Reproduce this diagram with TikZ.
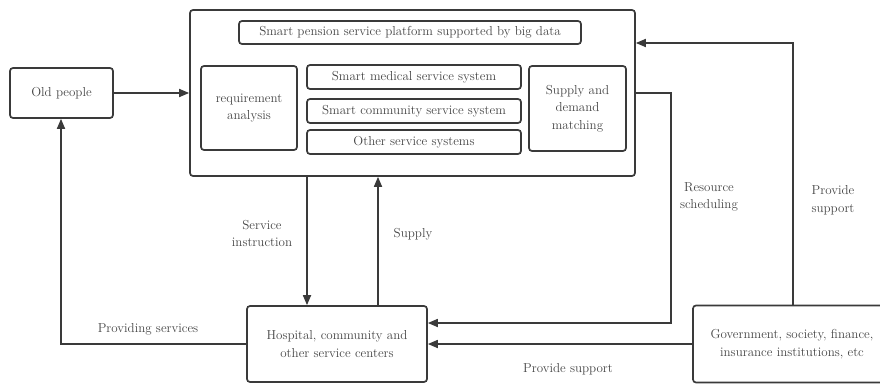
\documentclass[tikz,border=0pt]{standalone}
\usetikzlibrary{arrows.meta}
\definecolor{ln}{HTML}{3A3A3A}
\definecolor{tx}{HTML}{454545}
\tikzset{
  box/.style={draw=ln, line width=1.7pt, rounded corners=3pt, align=center, text=tx, inner sep=0pt, font=\fontsize{13}{17.5}\selectfont},
  lbl/.style={text=tx, align=center, font=\fontsize{13}{17.5}\selectfont, inner sep=0pt},
  arr/.style={draw=ln, line width=1.7pt, -{Triangle[length=10pt,width=8pt]}},
  ln/.style={draw=ln, line width=1.7pt}
}
\begin{document}
\begin{tikzpicture}[x=1pt,y=-1pt]
\useasboundingbox (0,0) rectangle (880,383);
\begin{scope}
\clip (0,0) rectangle (880,383);
\node[box, minimum width=445pt, minimum height=166pt] (main) at (412.5,93) {};
\node[box, minimum width=342pt, minimum height=23pt] (top) at (410,32.5) {Smart pension service platform supported by big data};
\node[box, minimum width=96pt, minimum height=84pt] (req) at (249,108) {requirement\\analysis};
\node[box, minimum width=214pt, minimum height=24pt] (med) at (414,77) {Smart medical service system};
\node[box, minimum width=214pt, minimum height=24pt] (com) at (414,111) {Smart community service system};
\node[box, minimum width=214pt, minimum height=24pt] (oth) at (414,142) {Other service systems};
\node[box, minimum width=97pt, minimum height=85pt] (sd) at (577.5,108.5) {Supply and\\demand\\matching};
\node[box, minimum width=103pt, minimum height=50pt] (old) at (61.5,93) {Old people};
\node[box, minimum width=180pt, minimum height=76pt] (hosp) at (337,344) {Hospital, community and\\other service centers};
\node[box, minimum width=198pt, minimum height=77pt] (gov) at (792,344) {Government, society, finance,\\insurance institutions, etc};

\coordinate (si) at (307,0);
\coordinate (su) at (378,0);
\coordinate (ps) at (61,344);
\coordinate (rs1) at (671,93);
\coordinate (rs2) at (671,323);
\coordinate (gs1) at (793,43);

\draw[arr] (old.east) -- (main.west);
\draw[arr] (si |- main.south) -- (si |- hosp.north);
\draw[arr] (su |- hosp.north) -- (su |- main.south);
\draw[arr] (hosp.west) -- (ps) -- (ps |- old.south);
\draw[arr] (main.east) -- (rs1) -- (rs2) -- (rs2 -| hosp.east);
\draw[arr] (gs1 |- gov.north) -- (gs1) -- (gs1 -| main.east);
\draw[arr] (gov.west) -- (hosp.east);

\node[lbl] (l1) at (262,233.5) {Service\\instruction};
\node[lbl] (l2) at (413,234) {Supply};
\node[lbl] (l3) at (148,329) {Providing services};
\node[lbl] (l4) at (709,197) {Resource\\scheduling};
\node[lbl] (l5) at (833,200) {Provide\\support};
\node[lbl] (l6) at (568,369) {Provide support};
\end{scope}
\end{tikzpicture}
\end{document}
